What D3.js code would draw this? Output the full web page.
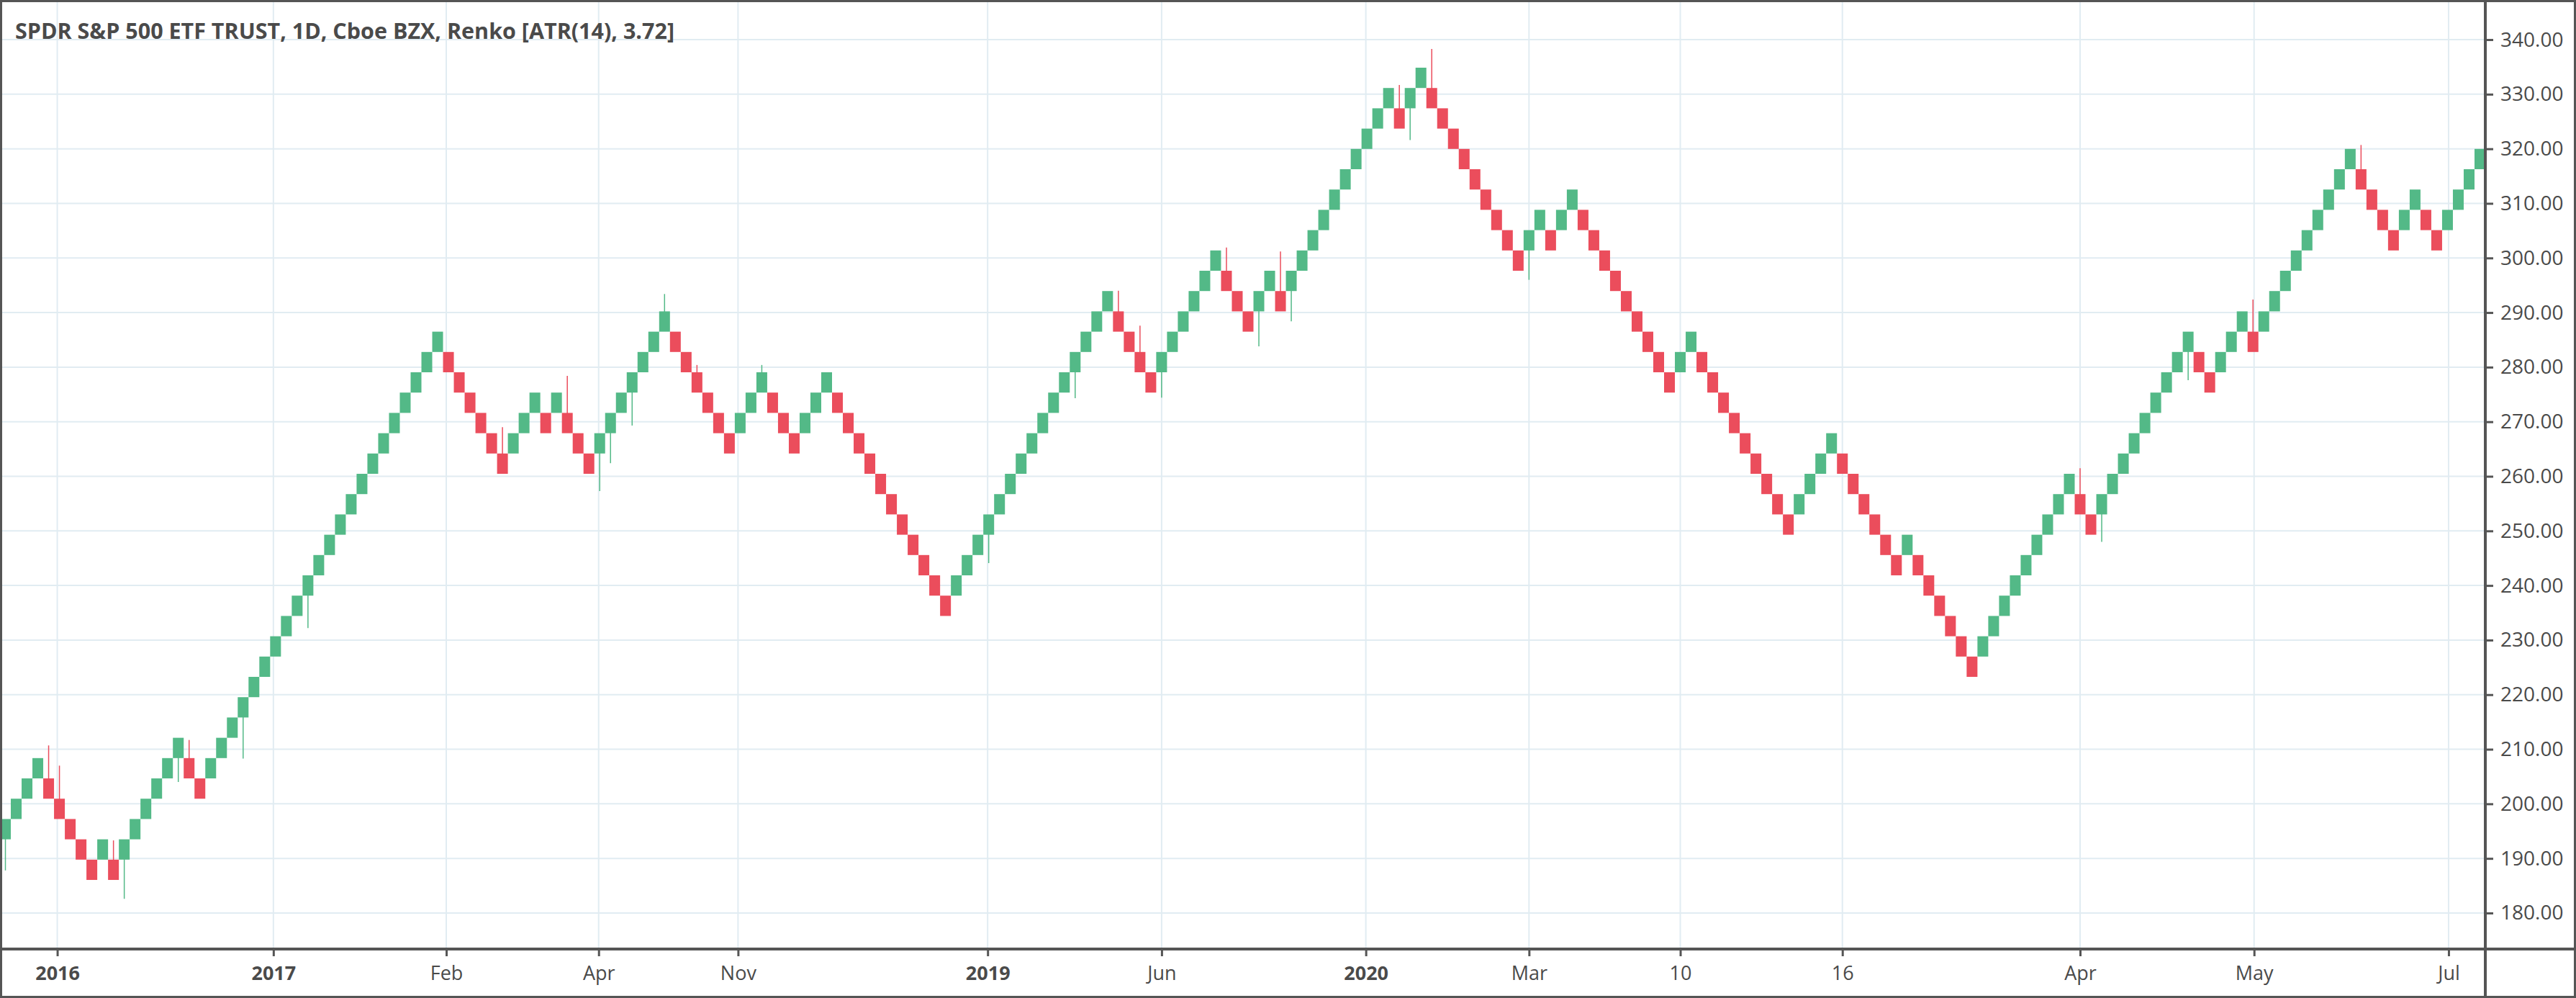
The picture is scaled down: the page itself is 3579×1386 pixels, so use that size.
<!DOCTYPE html>
<html>
<head>
<meta charset="utf-8">
<script src="https://cdn.jsdelivr.net/npm/d3@7"></script>
<style>
  body { margin: 0; background: #fff; }
  text { font-family: "Open Sans", "DejaVu Sans", sans-serif; }
</style>
</head>
<body>
<div id="chart"></div>
<script>
// renko runs: + up bricks, - down bricks
var runs = [4, -5, 1, -1, 6, -2, 22, -6,
            3, -1, 1, -3, 7, -6, 3, -3, 3, -11,
            15, -4, 6, -3, 2, -1, 10, -1, 2,
            -9, 2, -1, 2, -9, 2, -9, 4, -6,
            1, -6, 9, -2, 9, -2, 3, -1, 9, -4, 2, -2, 4];
var boxSize = 3.72;
var firstOpen = 193.5;

// wicks: brick index, price reached
var wickIdx = [0, 4, 5, 10, 11, 16, 17, 22, 28, 46, 52, 55, 56, 58, 61, 64, 70,
               91, 99, 103, 105, 107, 113, 116, 118, 119, 129, 130, 132, 141,
               192, 194, 202, 208, 218];
var wickPrice = [187.8, 210.7, 207, 193.3, 182.6, 204, 211.7, 208.3, 232.2, 269, 278.4, 257.3, 262.4, 269.3, 293.4, 280.4, 280.4,
                 244.1, 274.3, 294, 287.6, 274.4, 301.9, 283.8, 301.2, 288.4, 331.7, 321.6, 338.3, 296,
                 261.5, 248, 277.6, 292.4, 320.7];

var priceTicks = [180, 190, 200, 210, 220, 230, 240, 250, 260, 270, 280, 290, 300, 310, 320, 330, 340];
var timeTickPos = [5.3, 25.3, 41.3, 55.4, 68.3, 91.4, 107.5, 126.4, 141.5, 155.5, 170.5, 192.5, 208.6, 226.6];
var timeTickText = ["2016", "2017", "Feb", "Apr", "Nov", "2019", "Jun", "2020", "Mar", "10", "16", "Apr", "May", "Jul"];
var timeTickBold = ["2016", "2017", "2019", "2020"];

var width = 3579, height = 1386;
var plotW = 3453, plotH = 1318;

// build bricks from runs
var bricks = [];
var close = firstOpen;
var prevUp = null;
runs.forEach(function(r) {
  var up = r > 0;
  for (var k = 0; k < Math.abs(r); k++) {
    var open;
    if (prevUp === null) { open = firstOpen; }
    else if (prevUp === up) { open = close; }
    else { open = up ? close + boxSize : close - boxSize; }
    close = up ? open + boxSize : open - boxSize;
    bricks.push({open: open, close: close, up: up});
    prevUp = up;
  }
});
wickIdx.forEach(function(i, j) { bricks[i].wick = wickPrice[j]; });

var x = d3.scaleLinear().domain([0, bricks.length]).range([0, plotW]);
var y = d3.scaleLinear().domain([173.4, 347.26]).range([plotH, 0]);

var svg = d3.select("#chart").append("svg")
  .attr("width", width).attr("height", height);

svg.append("rect").attr("width", width).attr("height", height).attr("fill", "#fff");

// grid
svg.append("g").selectAll("line").data(priceTicks).enter().append("line")
  .attr("x1", 0).attr("x2", plotW)
  .attr("y1", function(d) { return y(d); }).attr("y2", function(d) { return y(d); })
  .attr("stroke", "#e1ecf2").attr("stroke-width", 2);
svg.append("g").selectAll("line").data(timeTickPos).enter().append("line")
  .attr("y1", 0).attr("y2", plotH)
  .attr("x1", function(d) { return x(d); }).attr("x2", function(d) { return x(d); })
  .attr("stroke", "#e1ecf2").attr("stroke-width", 2);

// wicks
svg.append("g").selectAll("line").data(bricks.filter(function(d) { return d.wick; })).enter().append("line")
  .attr("x1", function(d) { return x(bricks.indexOf(d) + 0.5); })
  .attr("x2", function(d) { return x(bricks.indexOf(d) + 0.5); })
  .attr("y1", function(d) { return y(d.wick); })
  .attr("y2", function(d) { return y((d.open + d.close) / 2); })
  .attr("stroke", function(d) { return d.up ? "#53b987" : "#eb4d5c"; })
  .attr("stroke-width", 1.5);

// bricks
svg.append("g").selectAll("rect").data(bricks).enter().append("rect")
  .attr("x", function(d, i) { return x(i); })
  .attr("width", x(1) - x(0))
  .attr("y", function(d) { return y(Math.max(d.open, d.close)); })
  .attr("height", function(d) { return Math.abs(y(d.open) - y(d.close)); })
  .attr("fill", function(d) { return d.up ? "#53b987" : "#eb4d5c"; });

// price axis
var ya = svg.append("g").attr("transform", "translate(" + plotW + ",0)")
  .call(d3.axisRight(y).tickValues(priceTicks).tickFormat(d3.format(".2f")).tickSize(11).tickPadding(10));
ya.select(".domain").remove();
ya.selectAll("line").attr("stroke", "#555").attr("stroke-width", 3);
ya.selectAll("text").attr("font-size", 28).attr("fill", "#4a4a4a")
  .style("font-family", "'Open Sans', sans-serif");

// time axis
var xa = svg.append("g").attr("transform", "translate(0," + plotH + ")")
  .call(d3.axisBottom(x).tickValues(timeTickPos)
    .tickFormat(function(d, i) { return timeTickText[i]; }).tickSize(10).tickPadding(14));
xa.select(".domain").remove();
xa.selectAll("line").attr("stroke", "#555").attr("stroke-width", 3);
xa.selectAll("text").attr("font-size", 27).attr("fill", "#4a4a4a")
  .style("font-family", "'Open Sans', sans-serif")
  .attr("font-weight", function(d, i) { return timeTickBold.indexOf(timeTickText[i]) >= 0 ? 700 : 400; });

// frame
svg.append("line").attr("x1", 0).attr("x2", width).attr("y1", plotH).attr("y2", plotH)
  .attr("stroke", "#555").attr("stroke-width", 4);
svg.append("line").attr("x1", plotW).attr("x2", plotW).attr("y1", 0).attr("y2", height)
  .attr("stroke", "#555").attr("stroke-width", 4);
svg.append("rect").attr("x", 1.5).attr("y", 1.5).attr("width", width - 3).attr("height", height - 3)
  .attr("fill", "none").attr("stroke", "#555").attr("stroke-width", 3);

// title
svg.append("text").attr("x", 21).attr("y", 54)
  .attr("font-size", 31).attr("font-weight", 700).attr("fill", "#4a4a4a")
  .attr("textLength", 916).attr("lengthAdjust", "spacingAndGlyphs")
  .text("SPDR S&P 500 ETF TRUST, 1D, Cboe BZX, Renko [ATR(14), 3.72]");
</script>
</body>
</html>
